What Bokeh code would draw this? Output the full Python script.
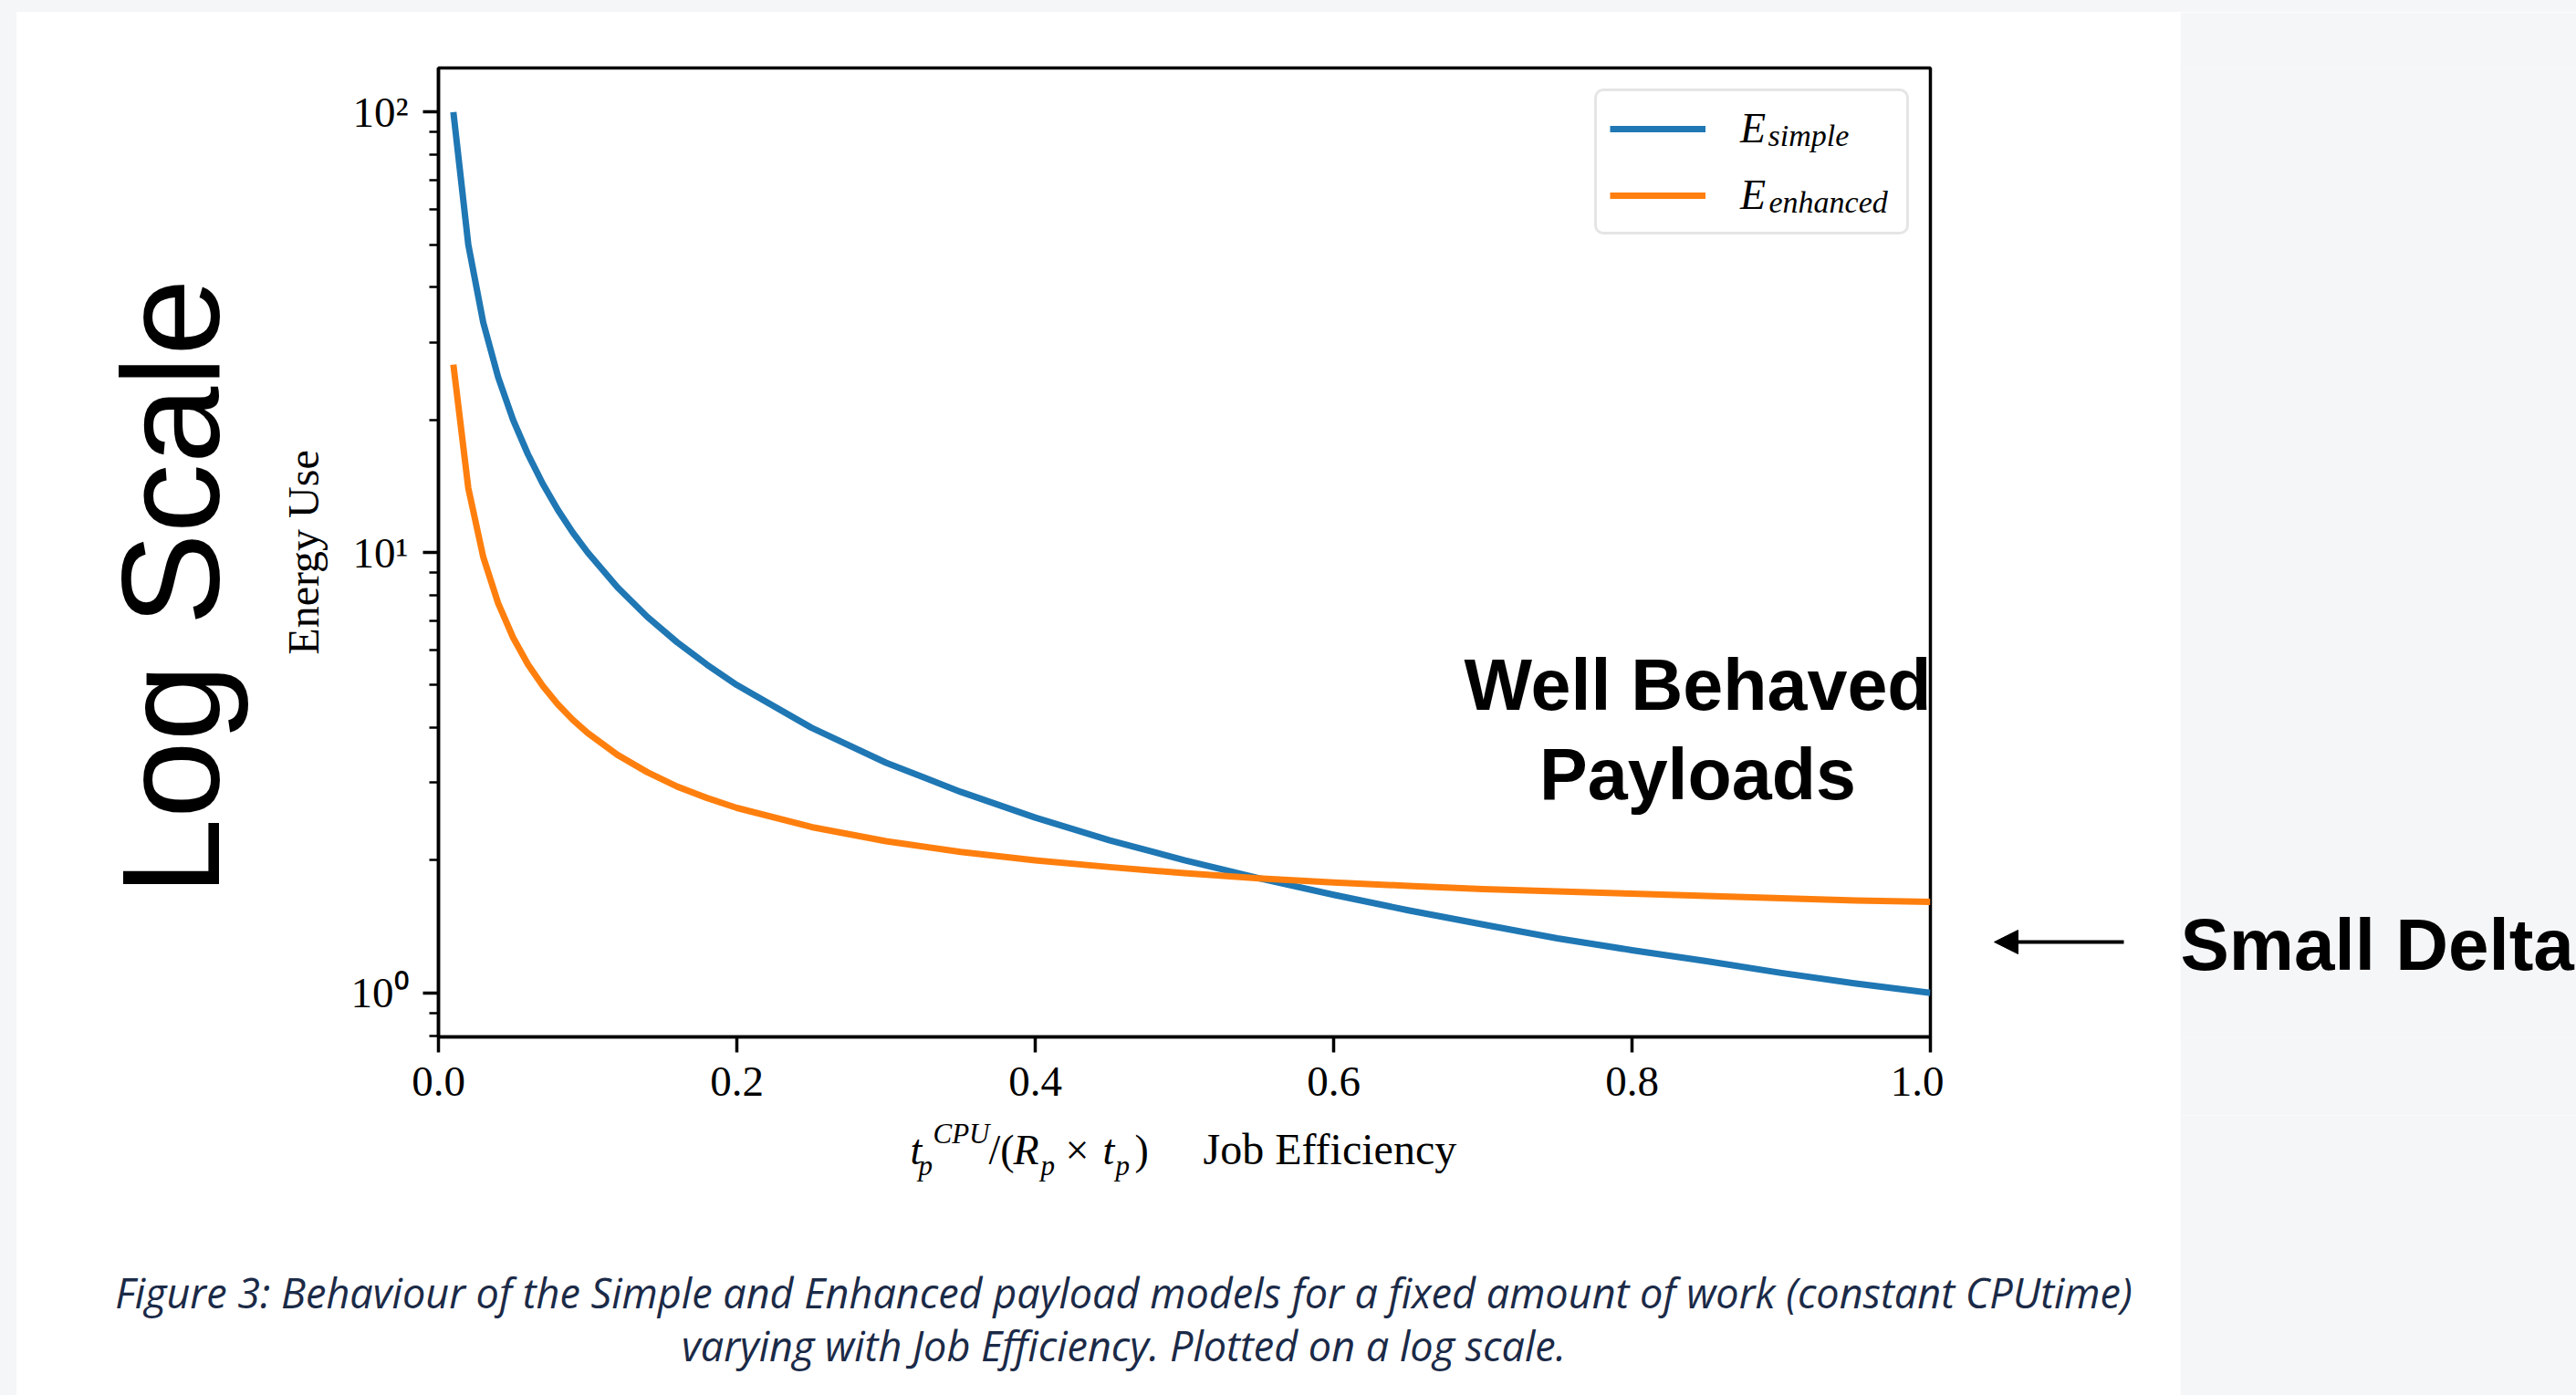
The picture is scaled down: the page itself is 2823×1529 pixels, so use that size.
import math
from bokeh.plotting import figure
from bokeh.layouts import row, column
from bokeh.models import (Range1d, FixedTicker, PrintfTickFormatter, Legend, LegendItem,
                          Label, Arrow, NormalHead, Spacer)
from bokeh.embed import file_html
from bokeh.resources import INLINE

# ---------------- data ----------------
x_eff = [0.01, 0.02, 0.03, 0.04, 0.05, 0.06, 0.07, 0.08, 0.09, 0.10,
         0.12, 0.14, 0.16, 0.18, 0.20, 0.25, 0.30, 0.35, 0.40, 0.45,
         0.50, 0.55, 0.60, 0.65, 0.70, 0.75, 0.80, 0.85, 0.90, 0.95, 1.00]
e_simple = [100.0, 50.0, 33.3, 25.0, 20.0, 16.7, 14.3, 12.5, 11.1, 10.0,
            8.33, 7.14, 6.25, 5.56, 5.00, 4.00, 3.33, 2.86, 2.50, 2.22,
            2.00, 1.82, 1.67, 1.54, 1.43, 1.33, 1.25, 1.18, 1.11, 1.05, 1.00]
e_enhanced = [26.7, 14.0, 9.77, 7.67, 6.41, 5.57, 4.97, 4.52, 4.17, 3.89,
              3.47, 3.17, 2.94, 2.77, 2.63, 2.38, 2.21, 2.09, 2.00, 1.93,
              1.87, 1.82, 1.78, 1.75, 1.72, 1.70, 1.68, 1.66, 1.64, 1.62, 1.61]
series_subscripts = ["simple", "enhanced"]

x_ticks = [0.0, 0.2, 0.4, 0.6, 0.8, 1.0]
y_ticks = [1, 10, 100]
y_tick_labels = ["10⁰", "10¹", "10²"]
y_minor_ticks = [0.8, 0.9, 2, 3, 4, 5, 6, 7, 8, 9, 20, 30, 40, 50, 60, 70, 80, 90]
x_lim = (0.0, 1.0)
y_log_lim = (-0.1, 2.1)

caption = ["Figure 3: Behaviour of the Simple and Enhanced payload models for a fixed amount of work (constant CPUtime)",
           "varying with Job Efficiency. Plotted on a log scale."]

# ---------------- layout (page pixels) ----------------
PAGE_W, PAGE_H = 2823, 1529
GRAY = "#f5f6f8"
TOP = 13          # gray strip above the white panel
LEFT = 18         # gray strip left of the white panel
PANEL_R = 2389    # white panel right edge
X1 = 300          # left text column | chart
X2 = 2130         # chart | right text column
Y1 = 1222         # chart row | bottom text row
FL, FR, FT, FB = 480, 2115, 74, 1136   # plot frame edges on the page
BASE_K = 0.37     # baseline correction (fraction of font size)


def blank(x0, x1, y0, y1, fy0, fy1, fill):
    """A bare figure whose data coordinates are page pixels; frame spans fy0..fy1."""
    f = figure(width=x1 - x0, height=y1 - y0, output_backend="svg", toolbar_location=None,
               x_range=Range1d(x0, x1), y_range=Range1d(fy1, fy0),
               x_axis_location=None, y_axis_location=None,
               min_border=0, min_border_left=0, min_border_right=0,
               min_border_top=fy0 - y0, min_border_bottom=y1 - fy1)
    f.grid.visible = False
    f.outline_line_color = None
    f.background_fill_color = fill
    f.border_fill_color = fill
    return f


def label(f, txt, x, y, font, size, style="normal", align="left", color="black", angle=0.0):
    f.add_layout(Label(x=x, y=y, text=txt, text_font=font, text_font_size=f"{size}px",
                       text_font_style=style, text_align=align, text_baseline="alphabetic",
                       text_color=color, angle=angle, level="overlay"))


# ---------- main chart ----------
p = figure(width=X2 - X1, height=Y1 - TOP, output_backend="svg", toolbar_location=None,
           y_axis_type="log",
           x_range=Range1d(*x_lim),
           y_range=Range1d(10 ** y_log_lim[0], 10 ** y_log_lim[1]),
           min_border_left=FL - X1, min_border_right=X2 - FR,
           min_border_top=FT - TOP, min_border_bottom=Y1 - FB)
p.border_fill_color = "white"
p.background_fill_color = "white"
p.outline_line_color = "black"
p.outline_line_width = 3.5
p.xgrid.visible = False
p.ygrid.visible = False

r1 = p.line(x_eff, e_simple, line_color="#1f77b4", line_width=7, line_join="round")
r2 = p.line(x_eff, e_enhanced, line_color="#ff7f0e", line_width=7, line_join="round")

p.xaxis.ticker = FixedTicker(ticks=x_ticks, minor_ticks=[])
p.xaxis.formatter = PrintfTickFormatter(format="%.1f")
p.yaxis.ticker = FixedTicker(ticks=y_ticks, minor_ticks=y_minor_ticks)
p.yaxis.major_label_overrides = {t: l for t, l in zip(y_ticks, y_tick_labels)}

for ax in (p.xaxis[0], p.yaxis[0]):
    ax.axis_line_width = 3.5
    ax.axis_line_color = "black"
    ax.major_tick_line_width = 3.5
    ax.major_tick_out = 17
    ax.major_tick_in = 0
    ax.minor_tick_line_width = 2.6
    ax.minor_tick_out = 10
    ax.minor_tick_in = 0
    ax.major_label_text_font = "Liberation Serif"
    ax.major_label_text_font_size = "47px"
    ax.major_label_text_color = "black"
    ax.major_label_standoff = 16

p.yaxis.axis_label = "Energy Use"
p.yaxis.axis_label_text_font = "Liberation Serif"
p.yaxis.axis_label_text_font_style = "normal"
p.yaxis.axis_label_text_font_size = "48px"
p.yaxis.axis_label_text_color = "black"
p.yaxis.axis_label_standoff = 23

legend = Legend(items=[LegendItem(label="E", renderers=[r1]),
                       LegendItem(label="E", renderers=[r2])],
                location="top_right", margin=23, padding=14, spacing=20,
                glyph_width=105, glyph_height=46, label_standoff=38,
                label_width=168, label_height=46,
                label_text_font="Liberation Serif", label_text_font_style="italic",
                label_text_font_size="46px", label_text_color="black",
                border_line_color="#cccccc", border_line_width=3,
                background_fill_color="white", background_fill_alpha=0.0)
if "border_radius" in Legend.properties():
    legend.border_radius = 10
p.add_layout(legend)


def to_data(px, py):
    xd = x_lim[0] + (px - FL) / (FR - FL) * (x_lim[1] - x_lim[0])
    yd = 10 ** (y_log_lim[1] - (py - FT) / (FB - FT) * (y_log_lim[1] - y_log_lim[0]))
    return xd, yd


for sub, (px, py) in zip(series_subscripts, [(1937, 161), (1938, 234)]):
    xd, yd = to_data(px, py - BASE_K * 34)
    label(p, sub, xd, yd, "Liberation Serif", 34, style="italic")

for txt, py in [("Well Behaved", 779), ("Payloads", 877)]:
    xd, yd = to_data(1860, py - BASE_K * 79)
    label(p, txt, xd, yd, "Liberation Sans", 79, style="bold", align="center")

# ---------- left column ----------
fl = blank(LEFT, X1, TOP, Y1, FT, FB, "white")
label(fl, "Log Scale", 243 - BASE_K * 152, 643, "Liberation Sans", 152,
      align="center", angle=math.pi / 2)

# ---------- right column ----------
frw = blank(X2, PANEL_R, TOP, Y1, FT, FB, "white")
frw.add_layout(Arrow(end=NormalHead(size=26, fill_color="black", line_color="black"),
                     x_start=2327, y_start=1032, x_end=2185, y_end=1032,
                     line_width=4, line_color="black", level="overlay"))
frg = blank(PANEL_R, PAGE_W, TOP, Y1, FT, FB, GRAY)
label(frg, "Small Delta", PANEL_R, 1065 - BASE_K * 80, "Liberation Sans", 80, style="bold")

# ---------- bottom row: x-axis label and caption ----------
fbw = blank(LEFT, PANEL_R, Y1, PAGE_H, Y1, PAGE_H, "white")
fbg = blank(PANEL_R, PAGE_W, Y1, PAGE_H, Y1, PAGE_H, GRAY)
pieces = [
    ("t", 997, 1277, 46, "italic"),
    ("CPU", 1022, 1253, 31, "italic"),
    ("p", 1006, 1288, 31, "italic"),
    ("/(", 1083, 1277, 46, "normal"),
    ("R", 1110, 1277, 46, "italic"),
    ("p", 1140, 1288, 31, "italic"),
    ("×", 1167, 1277, 46, "normal"),
    ("t", 1208, 1277, 46, "italic"),
    ("p", 1222, 1288, 31, "italic"),
    (")", 1243, 1277, 46, "normal"),
    ("Job Efficiency", 1318, 1277, 48, "normal"),
]
for txt, px, py, size, style in pieces:
    label(fbw, txt, px, py - BASE_K * size, "Liberation Serif", size, style=style)
for txt, py in zip(caption, [1433, 1491]):
    label(fbw, txt, 1231, py - BASE_K * 45, "Open Sans", 45, style="italic",
          align="center", color="#1b2a47")

gs = {"background-color": GRAY}
layout = column(
    Spacer(width=PAGE_W, height=TOP, styles=gs),
    row(Spacer(width=LEFT, height=Y1 - TOP, styles=gs), fl, p, frw, frg),
    row(Spacer(width=LEFT, height=PAGE_H - Y1, styles=gs), fbw, fbg),
)

html = file_html(layout, INLINE)
html = html.replace("<body>", '<body style="background-color:#f5f6f8;">', 1)
open("out.html", "w").write(html)
